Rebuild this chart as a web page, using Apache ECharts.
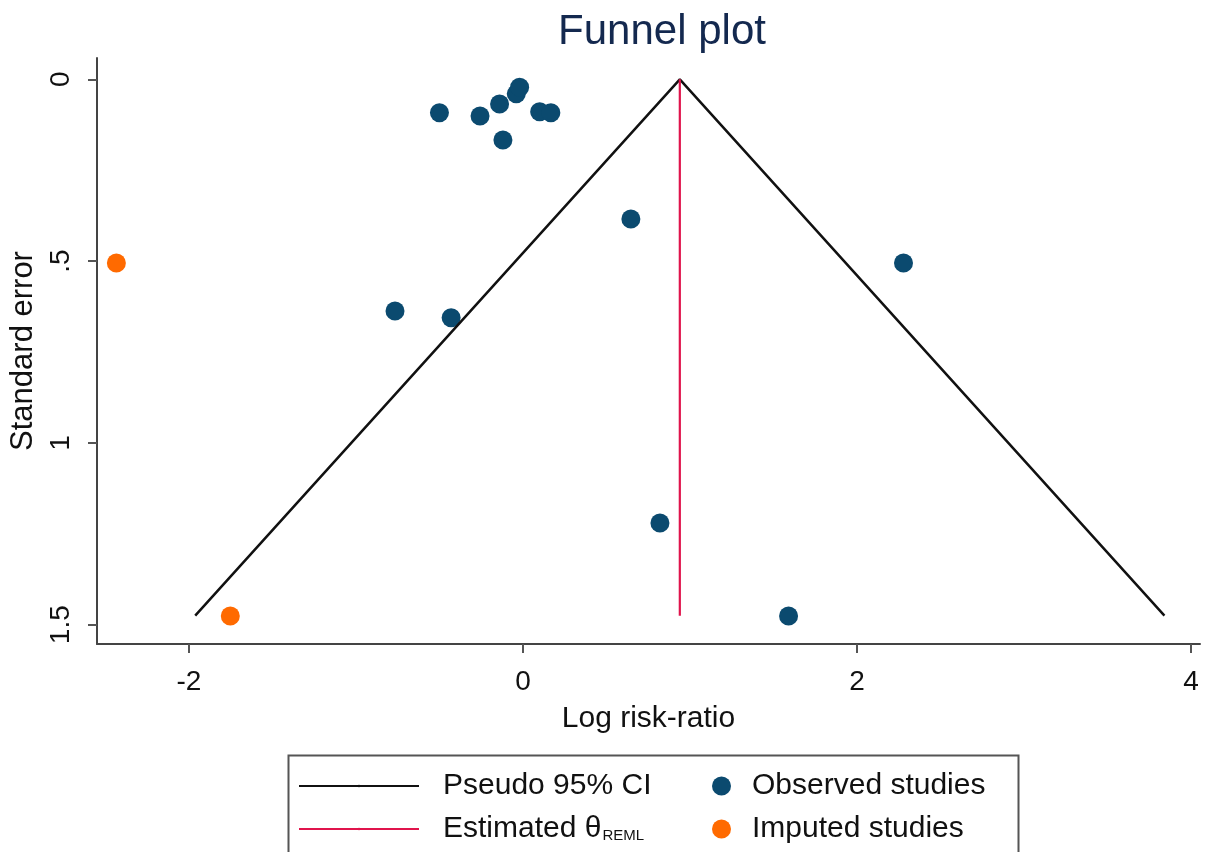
<!DOCTYPE html>
<html>
<head>
<meta charset="utf-8">
<script src="https://cdn.jsdelivr.net/npm/echarts@6/dist/echarts.min.js"></script>
<style>
html,body{margin:0;padding:0;background:#fff;}
#chart{width:1206px;height:852px;}
</style>
</head>
<body>
<div id="chart"></div>
<script>
// ---- data ----
const observedX = [-0.50, -0.257, -0.14, -0.12, -0.04, -0.02, 0.10, 0.167, 0.646, 2.278, -0.766, -0.43, 0.82, 1.59];
const observedY = [0.092, 0.101, 0.068, 0.167, 0.040, 0.022, 0.089, 0.092, 0.384, 0.505, 0.637, 0.656, 1.22, 1.476];
const imputedX = [-2.434, -1.752];
const imputedY = [0.505, 1.476];
const ciX = [-1.962, 0.939, 3.84];
const ciY = [1.475, 0, 1.475];
const thetaX = [0.939, 0.939];
const thetaY = [0, 1.475];
const xTicks = [-2, 0, 2, 4];
const yTicks = [0, 0.5, 1, 1.5];

const zip = (xs, ys) => xs.map((x, i) => [x, ys[i]]);
const FONT = 'Liberation Sans, Arial, sans-serif';
const TXT = '#111111';
const chart = echarts.init(document.getElementById('chart'));
chart.setOption({
  animation: false,
  backgroundColor: '#ffffff',
  title: {
    text: 'Funnel plot', left: 657, textAlign: 'center', top: 6,
    textStyle: { fontFamily: FONT, fontSize: 42, fontWeight: 'normal', color: '#14294f' }
  },
  grid: { left: 96, top: 58, width: 1104, height: 586, containLabel: false },
  xAxis: {
    type: 'value', min: -2.55, max: 4.053,
    name: 'Log risk-ratio', nameLocation: 'middle', nameGap: 60,
    nameTextStyle: { fontFamily: FONT, fontSize: 30, color: TXT },
    axisLine: { onZero: false, lineStyle: { color: '#444', width: 2 } },
    axisTick: { show: true, length: 9, lineStyle: { color: '#555', width: 2 }, customValues: xTicks },
    axisLabel: { fontFamily: FONT, fontSize: 28, color: TXT, margin: 24, customValues: xTicks },
    splitLine: { show: false }
  },
  yAxis: {
    type: 'value', inverse: true, min: -0.0586, max: 1.553,
    name: 'Standard error', nameLocation: 'middle', nameGap: 58, nameRotate: 90,
    nameTextStyle: { fontFamily: FONT, fontSize: 31, color: TXT },
    axisLine: { show: true, onZero: false, lineStyle: { color: '#444', width: 2 } },
    axisTick: { show: true, length: 9, lineStyle: { color: '#555', width: 2 }, customValues: yTicks },
    axisLabel: {
      fontFamily: FONT, fontSize: 28, color: TXT, margin: 22, rotate: 90, customValues: yTicks,
      formatter: v => String(v).replace(/^0\./, '.')
    },
    splitLine: { show: false }
  },
  legend: [
    {
      left: 293, top: 765, orient: 'vertical', itemWidth: 120, itemHeight: 3, itemGap: 11,
      data: ['Pseudo 95% CI', 'Estimated θ'],
      textStyle: {
        fontFamily: FONT, fontSize: 30, color: TXT, lineHeight: 32,
        rich: {
          t: { fontFamily: FONT, fontSize: 30, color: TXT, padding: [0, 0, 0, 19] },
          s: { fontFamily: FONT, fontSize: 15, color: TXT, padding: [14, 0, 0, 1] }
        }
      },
      formatter: n => n === 'Estimated θ' ? '{t|Estimated θ}{s|REML}' : '{t|' + n + '}'
    },
    {
      left: 707, top: 765, orient: 'vertical', itemWidth: 19, itemHeight: 19, itemGap: 11,
      icon: 'circle',
      data: ['Observed studies', 'Imputed studies'],
      textStyle: {
        fontFamily: FONT, fontSize: 30, color: TXT, lineHeight: 32,
        rich: { t: { fontFamily: FONT, fontSize: 30, color: TXT, padding: [0, 0, 0, 16] } }
      },
      formatter: n => '{t|' + n + '}'
    }
  ],
  graphic: [{
    type: 'rect', left: 286, top: 753, shape: { width: 730, height: 120 },
    style: { fill: 'none', stroke: '#555', lineWidth: 2 }, silent: true
  }],
  series: [
    {
      name: 'Pseudo 95% CI', type: 'line', data: zip(ciX, ciY), symbol: 'none',
      lineStyle: { color: '#111', width: 2.5 }, itemStyle: { color: '#111' }, z: 3
    },
    {
      name: 'Estimated θ', type: 'line', data: zip(thetaX, thetaY), symbol: 'none',
      lineStyle: { color: '#e0144c', width: 2.2 }, itemStyle: { color: '#e0144c' }, z: 3
    },
    {
      name: 'Observed studies', type: 'scatter', data: zip(observedX, observedY),
      symbol: 'circle', symbolSize: 19, itemStyle: { color: '#0b4a6f', opacity: 1 }, z: 2
    },
    {
      name: 'Imputed studies', type: 'scatter', data: zip(imputedX, imputedY),
      symbol: 'circle', symbolSize: 19, itemStyle: { color: '#ff6a00', opacity: 1 }, z: 2
    }
  ]
});
</script>
</body>
</html>
